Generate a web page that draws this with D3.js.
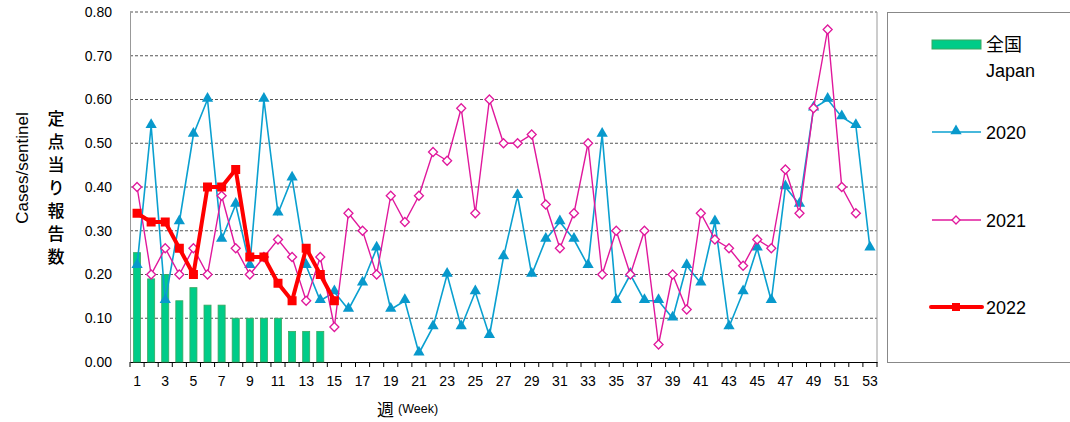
<!DOCTYPE html>
<html><head><meta charset="utf-8">
<script src="https://cdn.jsdelivr.net/npm/d3@7"></script>
<style>
html,body{margin:0;padding:0;background:#fff;}
svg{display:block;font-family:"Liberation Sans",Arial,sans-serif;}
</style></head>
<body><svg id="c" width="1070" height="422"></svg>
<script>
const weeks = d3.range(1, 54);
const japan = [0.25,0.19,0.20,0.14,0.17,0.13,0.13,0.10,0.10,0.10,0.10,0.07,0.07,0.07];
const y2020 = [0.22,0.54,0.14,0.32,0.52,0.60,0.28,0.36,0.22,0.60,0.34,0.42,0.22,0.14,0.16,0.12,0.18,0.26,0.12,0.14,0.02,0.08,0.20,0.08,0.16,0.06,0.24,0.38,0.20,0.28,0.32,0.28,0.22,0.52,0.14,0.20,0.14,0.14,0.10,0.22,0.18,0.32,0.08,0.16,0.26,0.14,0.40,0.36,0.58,0.60,0.56,0.54,0.26];
const y2021 = [0.40,0.20,0.26,0.20,0.26,0.20,0.38,0.26,0.20,0.24,0.28,0.24,0.14,0.24,0.08,0.34,0.30,0.20,0.38,0.32,0.38,0.48,0.46,0.58,0.34,0.60,0.50,0.50,0.52,0.36,0.26,0.34,0.50,0.20,0.30,0.20,0.30,0.04,0.20,0.12,0.34,0.28,0.26,0.22,0.28,0.26,0.44,0.34,0.58,0.76,0.40,0.34];
const y2022 = [0.34,0.32,0.32,0.26,0.20,0.40,0.40,0.44,0.24,0.24,0.18,0.14,0.26,0.20,0.14];
const yTicks = [0,0.1,0.2,0.3,0.4,0.5,0.6,0.7,0.8];
const xTickLabels = weeks.filter(w => w % 2 === 1);

const svg = d3.select("#c");
const L = 130, R = 877, T = 12, B = 362;
const x = d3.scaleBand().domain(weeks).range([L, R]).padding(0);
const y = d3.scaleLinear().domain([0, 0.8]).range([B, T]);
const cx = w => x(w) + x.bandwidth() / 2;

// grid
svg.append("g").selectAll("line").data(yTicks.filter(v => v > 0)).join("line")
  .attr("x1", L).attr("x2", R).attr("y1", d => y(d)).attr("y2", d => y(d))
  .attr("stroke", "#555").attr("stroke-width", 1).attr("stroke-dasharray", "3,2");
// right frame
svg.append("line").attr("x1", R).attr("x2", R).attr("y1", T).attr("y2", B).attr("stroke", "#999");

// y axis
const ya = svg.append("g").attr("transform", `translate(${L},0)`)
  .call(d3.axisLeft(y).tickValues(yTicks).tickFormat(d3.format(".2f")).tickSize(0).tickPadding(18));
ya.select(".domain").attr("stroke", "#999");
ya.selectAll("text").attr("font-size", 14).attr("fill", "#000").attr("font-family", "Liberation Sans, Arial, sans-serif");

// x axis
const xa = svg.append("g").attr("transform", `translate(0,${B})`)
  .call(d3.axisBottom(x).tickValues(xTickLabels).tickSize(0).tickPadding(14));
xa.select(".domain").attr("stroke", "#000");
xa.selectAll("text").attr("font-size", 14).attr("fill", "#000").attr("font-family", "Liberation Sans, Arial, sans-serif");
xa.selectAll(".tickmark").data(weeks.concat([54])).join("line").attr("class", "tickmark")
  .attr("x1", d => d === 54 ? R : x(d)).attr("x2", d => d === 54 ? R : x(d))
  .attr("y1", 0).attr("y2", 5).attr("stroke", "#000");

// bars
svg.append("g").selectAll("rect").data(japan).join("rect")
  .attr("x", (d, i) => cx(weeks[i]) - x.bandwidth() * 0.25)
  .attr("width", x.bandwidth() * 0.5)
  .attr("y", d => y(d)).attr("height", d => B - y(d))
  .attr("fill", "#00cc88").attr("stroke", "#3aa860").attr("stroke-width", 0.8);

const line = d3.line().x((d, i) => cx(weeks[i])).y(d => y(d));

// 2020
svg.append("path").datum(y2020).attr("d", line).attr("fill", "none").attr("stroke", "#0aa0d0").attr("stroke-width", 1.6);
const tri = d3.symbol().type(d3.symbolTriangle).size(55);
svg.append("g").selectAll("path").data(y2020).join("path")
  .attr("d", tri).attr("transform", (d, i) => `translate(${cx(weeks[i])},${y(d) - 1})`).attr("fill", "#0899cc");

// 2021
svg.append("path").datum(y2021).attr("d", line).attr("fill", "none").attr("stroke", "#e0189c").attr("stroke-width", 1.4);
svg.append("g").selectAll("path").data(y2021).join("path")
  .attr("d", "M0,-4.5L4.5,0L0,4.5L-4.5,0Z")
  .attr("transform", (d, i) => `translate(${cx(weeks[i])},${y(d)})`)
  .attr("fill", "#fff").attr("stroke", "#e0189c").attr("stroke-width", 1.3);

// 2022
svg.append("path").datum(y2022).attr("d", line).attr("fill", "none").attr("stroke", "#ff0000").attr("stroke-width", 4).attr("stroke-linejoin", "round");
svg.append("g").selectAll("rect").data(y2022).join("rect")
  .attr("x", (d, i) => cx(weeks[i]) - 4.5).attr("y", d => y(d) - 4.5)
  .attr("width", 9).attr("height", 9).attr("fill", "#ff0000");

// axis titles
svg.append("text").attr("transform", "translate(28,168) rotate(-90)").attr("text-anchor", "middle")
  .attr("font-size", 17).text("Cases/sentinel");
svg.append("text").attr("x", 56).attr("y", 110)
  .attr("writing-mode", "tb").style("writing-mode", "vertical-rl").style("text-orientation", "upright")
  .attr("letter-spacing", 6)
  .attr("font-size", 17).attr("font-family", "Noto Sans CJK JP").attr("font-weight", 500).text("定点当り報告数");
const xt = svg.append("text").attr("x", 377).attr("y", 416).attr("font-size", 17);
xt.append("tspan").attr("font-family", "Noto Sans CJK JP").text("週");
xt.append("tspan").attr("font-size", 12.5).attr("dx", 4).attr("dy", -3).text("(Week)");

// legend
const lg = svg.append("g");
lg.append("rect").attr("x", 887.5).attr("y", 12.5).attr("width", 190).attr("height", 350)
  .attr("fill", "none").attr("stroke", "#888").attr("stroke-width", 1);
lg.append("rect").attr("x", 932).attr("y", 40).attr("width", 49).attr("height", 9)
  .attr("fill", "#00cc88").attr("stroke", "#3aa860");
lg.append("text").attr("x", 986).attr("y", 51).attr("font-size", 18).attr("font-family", "Noto Sans CJK JP").text("全国");
lg.append("text").attr("x", 986).attr("y", 77).attr("font-size", 18).text("Japan");
// 2020
lg.append("line").attr("x1", 932).attr("x2", 981).attr("y1", 132).attr("y2", 132).attr("stroke", "#0aa0d0").attr("stroke-width", 1.6);
lg.append("path").attr("d", tri).attr("transform", "translate(956,131)").attr("fill", "#0899cc");
lg.append("text").attr("x", 986).attr("y", 139).attr("font-size", 18).text("2020");
// 2021
lg.append("line").attr("x1", 932).attr("x2", 981).attr("y1", 220).attr("y2", 220).attr("stroke", "#e0189c").attr("stroke-width", 1.4);
lg.append("path").attr("d", "M0,-4L4,0L0,4L-4,0Z").attr("transform", "translate(956,220)")
  .attr("fill", "#fff").attr("stroke", "#e0189c").attr("stroke-width", 1.3);
lg.append("text").attr("x", 986).attr("y", 227).attr("font-size", 18).text("2021");
// 2022
lg.append("line").attr("x1", 931).attr("x2", 982).attr("y1", 307).attr("y2", 307).attr("stroke", "#ff0000").attr("stroke-width", 4).attr("stroke-linecap", "round");
lg.append("rect").attr("x", 952).attr("y", 303).attr("width", 8).attr("height", 8).attr("fill", "#ff0000");
lg.append("text").attr("x", 986).attr("y", 314).attr("font-size", 18).text("2022");
</script></body></html>
